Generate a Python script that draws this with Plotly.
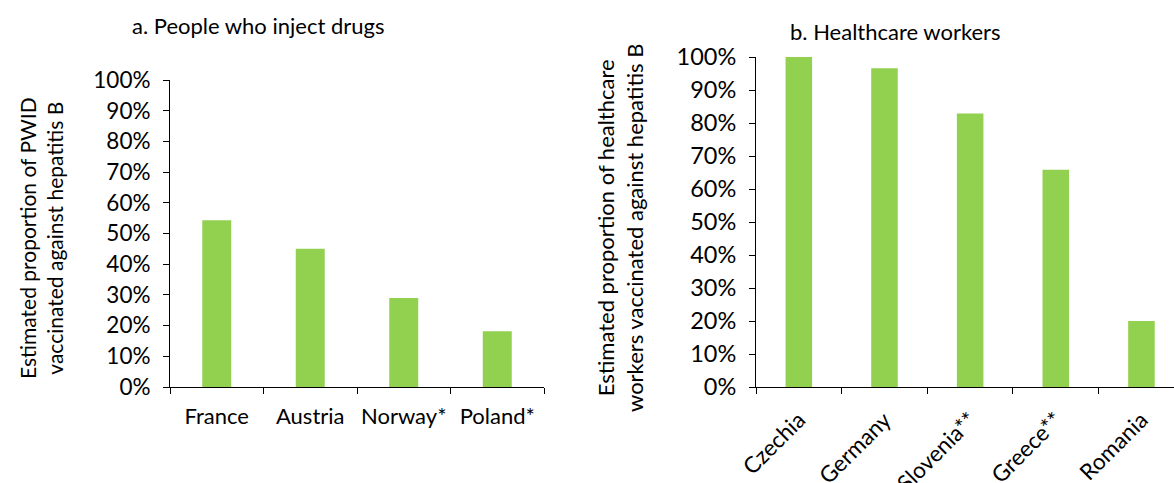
import plotly.graph_objects as go

W, H = 1174, 483

# Data
pwid_countries = ["France", "Austria", "Norway*", "Poland*"]
pwid_values = [0.543, 0.45, 0.29, 0.182]

hcw_countries = ["Czechia", "Germany", "Slovenia**", "Greece**", "Romania"]
hcw_values = [1.0, 0.966, 0.829, 0.658, 0.20]

y_ticks = [i / 10 for i in range(11)]

GREEN = "#92D050"
FONT = "Lato"


def px_x(p):
    return p / W


def px_y(p):
    return 1 - p / H


fig = go.Figure()
fig.add_trace(go.Bar(x=pwid_countries, y=pwid_values, marker_color=GREEN,
                     width=0.31, xaxis="x", yaxis="y", showlegend=False))
fig.add_trace(go.Bar(x=hcw_countries, y=hcw_values, marker_color=GREEN,
                     width=0.31, xaxis="x2", yaxis="y2", showlegend=False))


def axis_common(size):
    return dict(showline=True, linecolor="#000000", linewidth=1,
                ticks="outside", tickcolor="#000000", ticklen=6,
                showgrid=False, zeroline=False, automargin=False,
                tickfont=dict(family=FONT, size=size, color="#000000"))


fig.update_layout(
    template="none",
    width=W, height=H,
    margin=dict(l=0, r=0, t=0, b=0, pad=0),
    paper_bgcolor="white", plot_bgcolor="white",
    bargap=0.69,
    xaxis=dict(domain=[px_x(170), px_x(544)], anchor="y",
               type="category", tickson="boundaries", tickangle=0,
               range=[-0.5, 3.5], ticklabelstandoff=10, **axis_common(22)),
    yaxis=dict(domain=[px_y(387), px_y(80)], anchor="x",
               range=[0, 1], tickvals=y_ticks, tickformat=".0%",
               ticklabelstandoff=8, **axis_common(22.5)),
    xaxis2=dict(domain=[px_x(756), 1.0], anchor="y2",
                type="category", tickson="boundaries",
                range=[-0.5, 4.38], tickangle=-45, ticklabelstandoff=10,
                **axis_common(22.5)),
    yaxis2=dict(domain=[px_y(387), px_y(57)], anchor="x2",
                range=[0, 1], tickvals=y_ticks, tickformat=".0%",
                ticklabelstandoff=8, **axis_common(23.5)),
    annotations=[
        dict(text="a. People who inject drugs", x=px_x(258), y=px_y(25),
             xref="paper", yref="paper", showarrow=False,
             xanchor="center", yanchor="middle",
             font=dict(family=FONT, size=22, color="#000000")),
        dict(text="b. Healthcare workers", x=px_x(895), y=px_y(31),
             xref="paper", yref="paper", showarrow=False,
             xanchor="center", yanchor="middle",
             font=dict(family=FONT, size=22, color="#000000")),
        dict(text="Estimated proportion of PWID<br>vaccinated against hepatitis B",
             x=px_x(41), y=px_y(238), xref="paper", yref="paper",
             showarrow=False, textangle=-90, xanchor="center", yanchor="middle",
             font=dict(family=FONT, size=21, color="#000000")),
        dict(text="Estimated proportion of healthcare<br>workers vaccinated against hepatitis B",
             x=px_x(620), y=px_y(228), xref="paper", yref="paper",
             showarrow=False, textangle=-90, xanchor="center", yanchor="middle",
             font=dict(family=FONT, size=22, color="#000000")),
    ],
)

fig.write_html("out.html", config={"displayModeBar": False},
               post_script="document.body.style.margin='0';")
